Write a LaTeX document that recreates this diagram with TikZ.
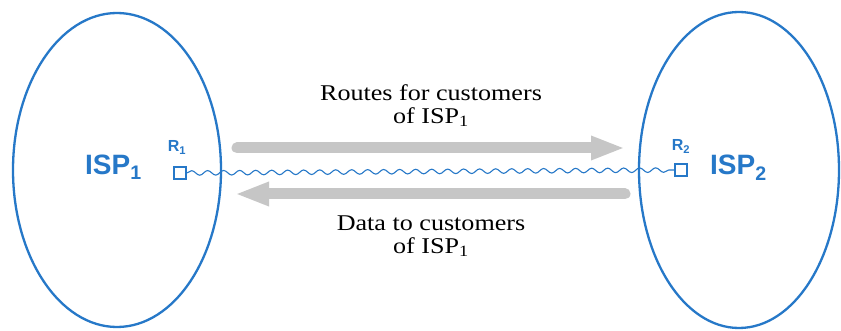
\documentclass[tikz,border=0pt]{standalone}
\usepackage{graphicx}
\usepackage{fontspec}
\setmainfont{Liberation Serif}
\newfontfamily\ispfont{Liberation Sans}
\usetikzlibrary{shapes.geometric,arrows.meta,decorations.pathmorphing}
\definecolor{ispblue}{RGB}{38,120,200}
\definecolor{arrowgray}{RGB}{198,198,198}
\newcommand{\msgtext}[2]{\scalebox{1.16}[1]{\fontsize{22.5}{23}\selectfont\begin{tabular}{@{}c@{}}#1\\#2\end{tabular}}}
\tikzset{
  ispnet/.style={ellipse, draw=ispblue, line width=2.3pt, inner sep=0pt},
  router/.style={draw=ispblue, line width=1.4pt, minimum size=12pt, inner sep=0pt},
  isplabel/.style={font=\ispfont\bfseries\fontsize{28}{30}\selectfont, text=ispblue, inner sep=0pt},
  rlabel/.style={font=\ispfont\bfseries\fontsize{16}{17}\selectfont, text=ispblue, inner sep=0pt},
  msg/.style={inner sep=0pt},
  flow/.style={draw=arrowgray, line width=11pt, line cap=round, -{Triangle[length=34pt,width=22pt]}},
  link/.style={draw=ispblue, line width=1.1pt, decorate, decoration={snake, segment length=16pt, amplitude=2.3pt}}
}
\begin{document}
\begin{tikzpicture}[x=1pt,y=-1pt]
\useasboundingbox[fill=white] (0,0) rectangle (841,331);
\node[ispnet, minimum width=208pt, minimum height=314pt] (isp1) at (117,170) {};
\node[ispnet, minimum width=200pt, minimum height=316pt] (isp2) at (739,170) {};
\node[router] (r1) at (180,173) {};
\node[router] (r2) at (681,170) {};
\node[rlabel, anchor=base] (r1l) at (177,152) {R\textsubscript{1}};
\node[rlabel, anchor=base] (r2l) at (681,151) {R\textsubscript{2}};
\node[isplabel, anchor=base west] (isp1l) at (85,175) {ISP\textsubscript{1}};
\node[isplabel, anchor=base west] (isp2l) at (710,175) {ISP\textsubscript{2}};
\draw[link] (r1.east) -- (r2.west);
\coordinate (a1s) at (237,148);
\coordinate (a1e) at (625,148);
\coordinate (a2s) at (625,194);
\coordinate (a2e) at (235,194);
\draw[flow] (a1s) -- (a1e);
\draw[flow] (a2s) -- (a2e);
\node[msg] (routes) at (431,107) {\msgtext{Routes for customers}{of ISP\textsubscript{1}}};
\node[msg] (data) at (431,237) {\msgtext{Data to customers}{of ISP\textsubscript{1}}};
\end{tikzpicture}
\end{document}
